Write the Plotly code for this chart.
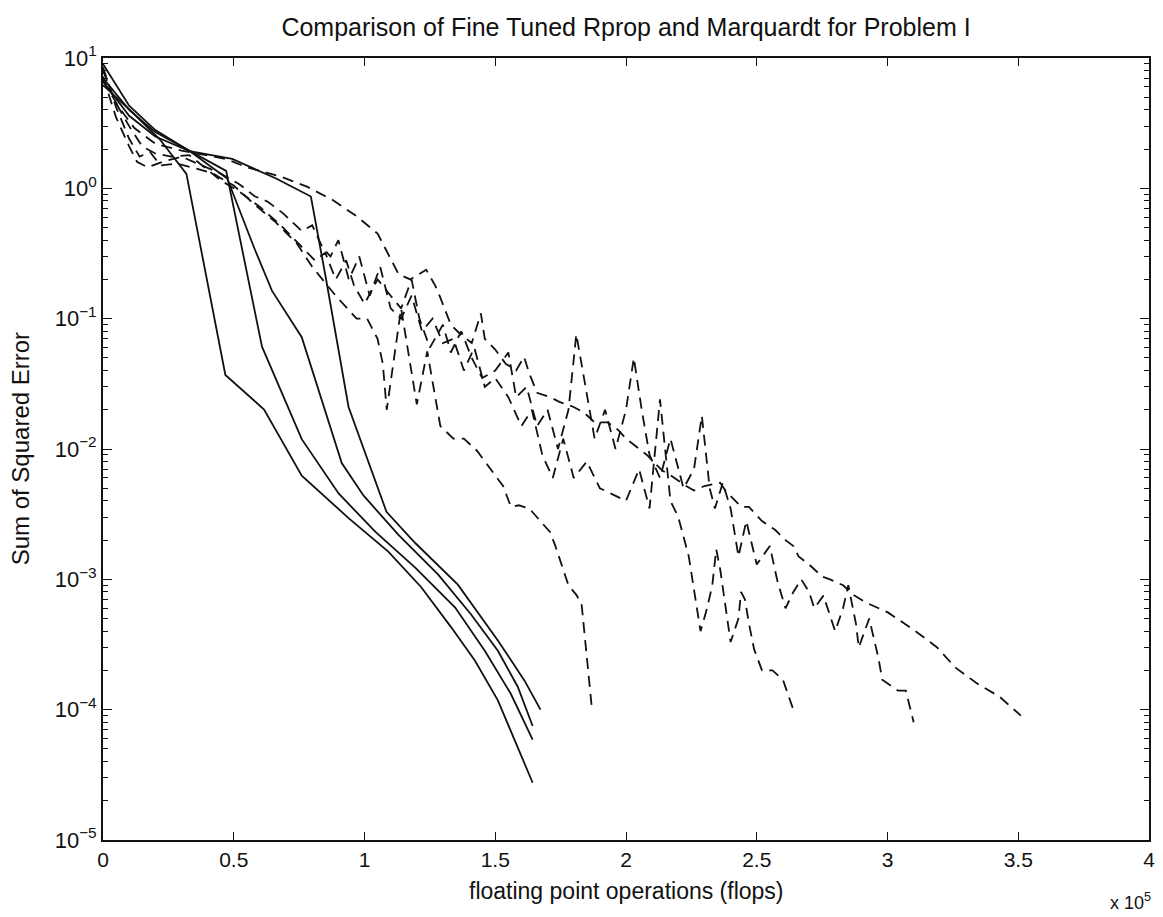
import plotly.graph_objects as go

# ---- data (x in units of 1e5 flops) ----
solid_a_x = [0, 0.114, 0.217, 0.319, 0.468, 0.616, 0.760, 0.939, 1.091, 1.217, 1.331, 1.422, 1.510, 1.643]
solid_a_y = [6.2, 3.8, 2.38, 1.29, 0.037, 0.0201, 0.00625, 0.00295, 0.00163, 8.7e-4, 4.3e-4, 2.38e-4, 1.18e-4, 2.75e-5]

solid_b_x = [0, 0.1, 0.2, 0.331, 0.471, 0.608, 0.760, 0.901, 1.042, 1.194, 1.346, 1.460, 1.559, 1.643]
solid_b_y = [7.0, 4.0, 2.7, 1.93, 1.36, 0.061, 0.0119, 0.00456, 0.00231, 0.00123, 6.1e-4, 2.83e-4, 1.33e-4, 5.9e-5]

solid_c_x = [0, 0.1, 0.2, 0.331, 0.475, 0.578, 0.646, 0.760, 0.913, 0.996, 1.129, 1.281, 1.407, 1.51, 1.586, 1.643]
solid_c_y = [9.0, 4.3, 2.8, 1.93, 1.19, 0.35, 0.164, 0.072, 0.0078, 0.0044, 0.0022, 0.00109, 5.4e-4, 2.83e-4, 1.5e-4, 7.5e-5]

solid_d_x = [0, 0.1, 0.2, 0.331, 0.494, 0.662, 0.795, 0.852, 0.939, 1.084, 1.194, 1.357, 1.51, 1.612, 1.673]
solid_d_y = [6.6, 3.6, 2.5, 1.93, 1.68, 1.19, 0.865, 0.206, 0.021, 0.0033, 0.0019, 9.1e-4, 3.4e-4, 1.67e-4, 1.0e-4]

dash_p_x = [0, 0.05, 0.1, 0.14, 0.18, 0.22, 0.28, 0.34, 0.42, 0.5, 0.58, 0.66, 0.74, 0.8, 0.89,
            0.97, 1.01, 1.05, 1.07, 1.085, 1.14, 1.2, 1.24, 1.29, 1.34, 1.38, 1.43, 1.48, 1.53,
            1.56, 1.59, 1.63, 1.71, 1.73, 1.78, 1.81, 1.83, 1.87]
dash_p_y = [8.5, 4.2, 2.4, 1.75, 1.9, 1.5, 1.55, 1.45, 1.3, 1.05, 0.75, 0.55, 0.38, 0.25, 0.15,
            0.1, 0.1, 0.07, 0.045, 0.02, 0.12, 0.022, 0.056, 0.015, 0.012, 0.012, 0.0097, 0.0071, 0.0052,
            0.0036, 0.0037, 0.0035, 0.0023, 0.0018, 0.0009, 0.00076, 0.00065, 0.0001]

dash_q_x = [0, 0.05, 0.1, 0.13, 0.17, 0.23, 0.3, 0.38, 0.45, 0.52, 0.58, 0.63, 0.69, 0.76, 0.8,
            0.84, 0.87, 0.9, 0.94, 0.98, 1.02, 1.06, 1.1, 1.14, 1.18, 1.22, 1.26, 1.3, 1.34, 1.38,
            1.42, 1.46, 1.5, 1.55, 1.6, 1.64, 1.68, 1.72, 1.76, 1.8, 1.85, 1.9, 1.95, 2.0, 2.05,
            2.09, 2.13, 2.17, 2.2, 2.24, 2.285, 2.31, 2.33, 2.345, 2.36, 2.375, 2.39, 2.4, 2.43,
            2.44, 2.455, 2.47, 2.49, 2.52, 2.56, 2.6, 2.64]
dash_q_y = [7.2, 3.5, 2.1, 1.6, 1.45, 1.6, 1.75, 1.5, 1.3, 1.08, 0.87, 0.79, 0.64, 0.47, 0.52,
            0.35, 0.3, 0.4, 0.2, 0.3, 0.15, 0.25, 0.12, 0.1, 0.15, 0.08, 0.1, 0.065, 0.07, 0.04,
            0.06, 0.03, 0.035, 0.025, 0.015, 0.02, 0.009, 0.006, 0.012, 0.006, 0.008, 0.005, 0.0045, 0.004, 0.007,
            0.0035, 0.024, 0.004, 0.003, 0.0015, 0.0004, 0.0006, 0.0009, 0.0017, 0.0012, 0.00075, 0.00045, 0.00033, 0.0005,
            0.0008, 0.0007, 0.00046, 0.00029, 0.0002, 0.0002, 0.00017, 0.0001]

dash_r_x = [0, 0.05, 0.1, 0.15, 0.2, 0.26, 0.33, 0.45, 0.52, 0.6, 0.68, 0.75, 0.81, 0.85, 0.89,
            0.93, 0.96, 1.0, 1.05, 1.1, 1.14, 1.18, 1.21, 1.25, 1.3, 1.33, 1.37, 1.41, 1.45, 1.5,
            1.55, 1.58, 1.62, 1.66, 1.7, 1.74, 1.78, 1.81, 1.84, 1.88, 1.92, 1.96, 2.0, 2.03, 2.06,
            2.09, 2.13, 2.17, 2.22, 2.26, 2.29, 2.32, 2.34, 2.37, 2.4, 2.43, 2.46, 2.5, 2.55, 2.58,
            2.61, 2.64, 2.67, 2.7, 2.72, 2.755, 2.8, 2.83, 2.85, 2.88, 2.89, 2.93, 2.965, 2.98,
            3.04, 3.07, 3.1]
dash_r_y = [8.0, 4.5, 3.0, 2.1, 1.85, 1.75, 1.8, 1.15, 0.95, 0.72, 0.52, 0.37, 0.28, 0.32, 0.2,
            0.28, 0.18, 0.13, 0.2, 0.15, 0.12, 0.2, 0.1, 0.06, 0.09, 0.055, 0.08, 0.05, 0.035, 0.04,
            0.055, 0.025, 0.03, 0.015, 0.02, 0.01, 0.02, 0.076, 0.035, 0.012, 0.02, 0.01, 0.02, 0.05, 0.02,
            0.009, 0.006, 0.012, 0.005, 0.007, 0.018, 0.005, 0.0035, 0.0055, 0.0035, 0.0015, 0.0028, 0.0013, 0.0018, 0.00095,
            0.0006, 0.0008, 0.001, 0.0008, 0.0006, 0.00075, 0.0004, 0.0006, 0.0009, 0.00045, 0.0003, 0.0005, 0.00025, 0.00017,
            0.00014, 0.00014, 0.00008]

dash_s_x = [0, 0.06, 0.12, 0.2, 0.3, 0.4, 0.47, 0.55, 0.68, 0.78, 0.88, 0.94, 0.97, 1.05, 1.1,
            1.13, 1.175, 1.236, 1.27, 1.29, 1.33, 1.37, 1.41, 1.445, 1.46, 1.5, 1.54, 1.58, 1.61,
            1.63, 1.66, 1.71, 1.745, 1.8, 1.84, 1.88, 1.93, 1.97, 2.0, 2.08, 2.14, 2.17, 2.23,
            2.26, 2.3, 2.36, 2.38, 2.44, 2.47, 2.52, 2.57, 2.61, 2.64, 2.66, 2.7, 2.75, 2.78,
            2.83, 2.87, 2.92, 3.0, 3.1, 3.19, 3.26, 3.34, 3.43, 3.51]
dash_s_y = [6.8, 4.2, 2.9, 2.2, 1.95, 1.8, 1.68, 1.45, 1.23, 1.03, 0.81, 0.67, 0.61, 0.45, 0.29,
            0.22, 0.2, 0.237, 0.18, 0.145, 0.09, 0.075, 0.065, 0.11, 0.07, 0.058, 0.045, 0.04, 0.051,
            0.038, 0.027, 0.025, 0.023, 0.021, 0.019, 0.016, 0.016, 0.014, 0.012, 0.009, 0.0068, 0.0063, 0.0052,
            0.0048, 0.0052, 0.0055, 0.0048, 0.0036, 0.0036, 0.0028, 0.0024, 0.002, 0.0018, 0.0015, 0.0013, 0.00105, 0.001,
            0.0009, 0.00076, 0.00066, 0.00056, 0.00041, 0.0003, 0.00021, 0.00016, 0.000125, 0.00009]

x_tick_vals = [0, 0.5, 1, 1.5, 2, 2.5, 3, 3.5, 4]
x_tick_text = ["0", "0.5", "1", "1.5", "2", "2.5", "3", "3.5", "4"]
y_tick_vals = [1e-5, 1e-4, 1e-3, 1e-2, 1e-1, 1e0, 1e1]
y_tick_text = ["10<sup>\u22125</sup>", "10<sup>\u22124</sup>", "10<sup>\u22123</sup>",
               "10<sup>\u22122</sup>", "10<sup>\u22121</sup>", "10<sup>0</sup>", "10<sup>1</sup>"]

FONT = "Liberation Sans, Arial, Helvetica, sans-serif"
INK = "#111111"

fig = go.Figure()
for xs, ys in [(solid_a_x, solid_a_y), (solid_b_x, solid_b_y), (solid_c_x, solid_c_y), (solid_d_x, solid_d_y)]:
    fig.add_trace(go.Scatter(x=xs, y=ys, mode="lines", line=dict(color=INK, width=1.8),
                             showlegend=False, hoverinfo="skip"))
for xs, ys in [(dash_p_x, dash_p_y), (dash_q_x, dash_q_y), (dash_r_x, dash_r_y), (dash_s_x, dash_s_y)]:
    fig.add_trace(go.Scatter(x=xs, y=ys, mode="lines", line=dict(color=INK, width=1.8, dash="11px,7px"),
                             showlegend=False, hoverinfo="skip"))

minor_vals = [k * 10.0 ** n for n in range(-5, 1) for k in range(2, 10)]

fig.update_layout(
    width=1163, height=917,
    margin=dict(l=103, r=8, t=58, b=77),
    paper_bgcolor="white", plot_bgcolor="white",
    font=dict(family=FONT, color=INK, size=21),
    title=dict(text="Comparison of Fine Tuned Rprop and Marquardt for Problem I",
               x=0.5, xref="paper", xanchor="center", y=1 - 27 / 917, yanchor="middle",
               font=dict(family=FONT, size=25, color=INK)),
    xaxis=dict(range=[0, 4], tickvals=x_tick_vals, ticktext=x_tick_text,
               showgrid=False, zeroline=False, showline=True, linecolor=INK, linewidth=1.8,
               mirror="ticks", ticks="inside", ticklen=8, tickcolor=INK, tickwidth=1.3,
               tickfont=dict(size=21, family=FONT, color=INK)),
    yaxis=dict(type="log", range=[-5, 1], tickvals=y_tick_vals, ticktext=y_tick_text,
               showgrid=False, zeroline=False, showline=True, linecolor=INK, linewidth=1.8,
               mirror="ticks", ticks="inside", ticklen=9, tickcolor=INK, tickwidth=1.3,
               tickfont=dict(size=22, family=FONT, color=INK),
               minor=dict(tickvals=minor_vals, ticks="inside", ticklen=5, tickcolor=INK, tickwidth=1.1, showgrid=False)),
    annotations=[
        dict(text="floating point operations (flops)", xref="paper", yref="paper", x=0.5, y=-0.046,
             xanchor="center", yanchor="top", showarrow=False, font=dict(size=23, family=FONT, color=INK)),
        dict(text="x 10<sup>5</sup>", xref="paper", yref="paper", x=1.004, y=-0.062,
             xanchor="right", yanchor="top", showarrow=False, font=dict(size=18, family=FONT, color=INK)),
        dict(text="Sum of Squared Error", xref="paper", yref="paper", x=-0.079, y=0.5,
             xanchor="center", yanchor="middle", textangle=-90, showarrow=False,
             font=dict(size=24, family=FONT, color=INK)),
    ],
)

fig.write_html("out.html")
